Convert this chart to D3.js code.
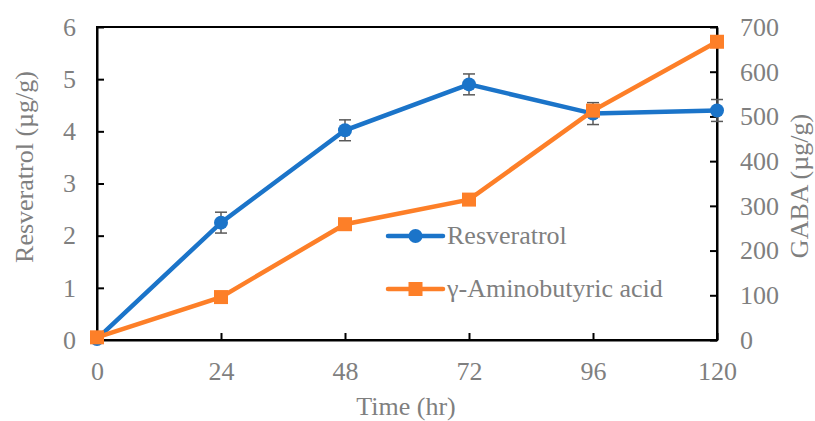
<!DOCTYPE html>
<html>
<head>
<meta charset="utf-8">
<script src="https://cdn.jsdelivr.net/npm/d3@7"></script>
<style>
  body { margin: 0; background: #fff; }
  text { font-family: "Liberation Serif", "Times New Roman", serif; fill: #7f7f7f; }
</style>
</head>
<body>
<div id="chart"></div>
<script>
const width = 815, height = 421;
const margin = { top: 27, right: 98, bottom: 81, left: 97 };
const fs = 26;

const hours = [0, 24, 48, 72, 96, 120];
const resveratrol = [0.02, 2.25, 4.02, 4.9, 4.34, 4.4];
const resveratrolErr = [0.03, 0.2, 0.2, 0.2, 0.21, 0.21];
const gaba = [6, 96, 259, 314, 513, 667];
const leftTicks = [0, 1, 2, 3, 4, 5, 6];
const rightTicks = [0, 100, 200, 300, 400, 500, 600, 700];

const blue = "#1b74c9", orange = "#fd7f28";

const svg = d3.select("#chart").append("svg")
  .attr("width", width).attr("height", height);

const x = d3.scaleLinear().domain([0, 120]).range([margin.left, width - margin.right]);
const yL = d3.scaleLinear().domain([0, 6]).range([height - margin.bottom, margin.top]);
const yR = d3.scaleLinear().domain([0, 700]).range([height - margin.bottom, margin.top]);

// frame
svg.append("rect")
  .attr("x", margin.left).attr("y", margin.top)
  .attr("width", width - margin.left - margin.right)
  .attr("height", height - margin.top - margin.bottom)
  .attr("fill", "none").attr("stroke", "#000").attr("stroke-width", 2);

// axes (ticks point inward)
const axB = svg.append("g").attr("transform", `translate(0,${height - margin.bottom})`)
  .call(d3.axisBottom(x).tickValues(hours).tickFormat(d3.format("d"))
    .tickSizeInner(-7).tickSizeOuter(0).tickPadding(22));
const axL = svg.append("g").attr("transform", `translate(${margin.left},0)`)
  .call(d3.axisLeft(yL).tickValues(leftTicks).tickFormat(d3.format("d"))
    .tickSizeInner(-7).tickSizeOuter(0).tickPadding(21));
const axR = svg.append("g").attr("transform", `translate(${width - margin.right},0)`)
  .call(d3.axisRight(yR).tickValues(rightTicks).tickFormat(d3.format("d"))
    .tickSizeInner(-7).tickSizeOuter(0).tickPadding(23));

[axB, axL, axR].forEach(a => {
  a.attr("font-family", "Liberation Serif").attr("font-size", fs);
  a.select(".domain").attr("stroke", "#000").attr("stroke-width", 2);
  a.selectAll(".tick line").attr("stroke", "#000").attr("stroke-width", 2);
  a.selectAll(".tick text").attr("fill", "#7f7f7f");
});

// axis titles
svg.append("text").attr("x", 406).attr("y", 415).attr("text-anchor", "middle")
  .attr("font-size", fs).text("Time (hr)");
svg.append("text").attr("transform", "translate(33,167) rotate(-90)")
  .attr("text-anchor", "middle").attr("font-size", fs).text("Resveratrol (\u00b5g/g)");
svg.append("text").attr("transform", "translate(808,186) rotate(-90)")
  .attr("text-anchor", "middle").attr("font-size", fs).text("GABA (\u00b5g/g)");

// resveratrol error bars
const eb = svg.append("g").attr("stroke", "#595959").attr("stroke-width", 1.5);
hours.forEach((h, i) => {
  const cx = x(h), t = yL(resveratrol[i] + resveratrolErr[i]), b = yL(resveratrol[i] - resveratrolErr[i]);
  eb.append("line").attr("x1", cx).attr("x2", cx).attr("y1", t).attr("y2", b);
  eb.append("line").attr("x1", cx - 6).attr("x2", cx + 6).attr("y1", t).attr("y2", t);
  eb.append("line").attr("x1", cx - 6).attr("x2", cx + 6).attr("y1", b).attr("y2", b);
});

// resveratrol line
svg.append("path")
  .datum(hours.map((h, i) => [h, resveratrol[i]]))
  .attr("fill", "none").attr("stroke", blue).attr("stroke-width", 4.5)
  .attr("d", d3.line().x(d => x(d[0])).y(d => yL(d[1])));
svg.append("g").selectAll("circle")
  .data(hours.map((h, i) => [h, resveratrol[i]]))
  .join("circle")
  .attr("cx", d => x(d[0])).attr("cy", d => yL(d[1])).attr("r", 7)
  .attr("fill", blue);

// GABA line
svg.append("path")
  .datum(hours.map((h, i) => [h, gaba[i]]))
  .attr("fill", "none").attr("stroke", orange).attr("stroke-width", 4.5)
  .attr("d", d3.line().x(d => x(d[0])).y(d => yR(d[1])));
svg.append("g").selectAll("rect")
  .data(hours.map((h, i) => [h, gaba[i]]))
  .join("rect")
  .attr("x", d => x(d[0]) - 7).attr("y", d => yR(d[1]) - 7)
  .attr("width", 14).attr("height", 14)
  .attr("fill", orange);

// legend
const legend = [
  { name: "Resveratrol", color: blue, shape: "circle", y: 236 },
  { name: "\u03b3-Aminobutyric acid", color: orange, shape: "square", y: 289 }
];
legend.forEach(l => {
  const g = svg.append("g");
  g.append("line").attr("x1", 388).attr("x2", 443).attr("y1", l.y).attr("y2", l.y)
    .attr("stroke", l.color).attr("stroke-width", 4.5).attr("stroke-linecap", "round");
  if (l.shape === "circle") {
    g.append("circle").attr("cx", 415.5).attr("cy", l.y).attr("r", 7).attr("fill", l.color);
  } else {
    g.append("rect").attr("x", 408.5).attr("y", l.y - 7).attr("width", 14).attr("height", 14).attr("fill", l.color);
  }
  g.append("text").attr("x", 447).attr("y", l.y + 8).attr("font-size", fs).text(l.name);
});
</script>
</body>
</html>
